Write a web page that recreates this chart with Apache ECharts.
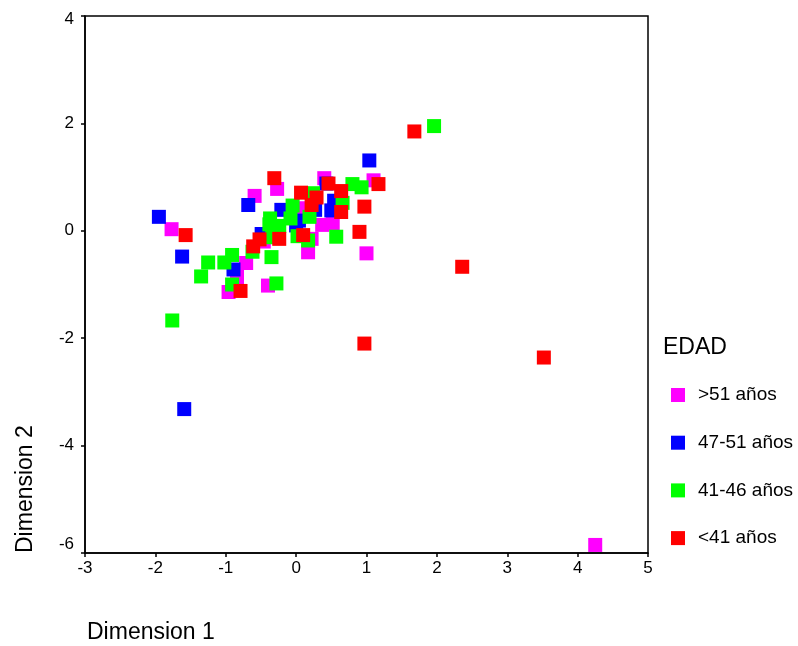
<!DOCTYPE html>
<html>
<head>
<meta charset="utf-8">
<script src="https://cdn.jsdelivr.net/npm/echarts@6/dist/echarts.min.js"></script>
<style>
html,body{margin:0;padding:0;background:#fff;}
#chart{width:798px;height:646px;}
</style>
</head>
<body>
<div id="chart"></div>
<script>
const seriesNames = ['>51 años', '47-51 años', '41-46 años', '<41 años'];
const seriesColors = ['#FF00FF', '#0000FF', '#00FF00', '#FF0000'];

const over51 = [
  [-1.77, 0.03], [-0.59, 0.65], [-0.27, 0.78], [0.40, 0.98], [1.10, 0.94],
  [0.37, 0.11], [0.52, 0.14], [0.17, -0.40], [0.22, -0.15], [1.00, -0.42],
  [-0.71, -0.60], [-0.84, -0.86], [-0.96, -1.14], [-0.40, -1.02], [4.25, -5.85],
  [-0.46, -0.20], [0.04, 0.42]
];
const age47to51 = [
  [-1.95, 0.26], [-1.62, -0.48], [-1.59, -3.32], [-0.68, 0.48], [1.04, 1.31],
  [-0.89, -0.72], [-0.21, 0.39], [-0.49, -0.06], [0.04, 0.19], [0.27, 0.39],
  [0.50, 0.38], [0.54, 0.56], [0.43, 0.88], [0.00, 0.10]
];
const age41to46 = [
  [1.96, 1.95], [-1.76, -1.67], [-1.35, -0.85], [-1.25, -0.59], [-1.02, -0.59],
  [-0.91, -0.45], [-0.91, -1.00], [-0.35, -0.49], [-0.28, -0.98], [-0.62, -0.39],
  [-0.37, 0.23], [-0.38, 0.12], [-0.26, 0.08], [-0.05, 0.47], [-0.08, 0.23],
  [0.19, 0.26], [0.02, -0.10], [0.17, -0.18], [0.24, 0.70], [0.66, 0.52],
  [0.57, -0.11], [0.80, 0.87], [0.93, 0.81], [-0.34, -0.12], [-0.24, 0.09]
];
const under41 = [
  [1.68, 1.85], [-0.31, 0.98], [-1.57, -0.08], [-0.79, -1.12], [-0.61, -0.29],
  [-0.52, -0.16], [-0.24, -0.15], [0.07, 0.71], [0.10, -0.08], [0.22, 0.48],
  [0.29, 0.62], [0.46, 0.88], [0.64, 0.74], [0.64, 0.35], [0.97, 0.45],
  [0.90, -0.02], [1.17, 0.87], [0.97, -2.10], [2.36, -0.67], [3.52, -2.36]
];
const seriesData = [over51, age47to51, age41to46, under41];

const xTicks = {min: -3, max: 5, interval: 1};
const yTicks = {min: -6, max: 4, interval: 2};

const font = 'Liberation Sans, Arial, sans-serif';
const chart = echarts.init(document.getElementById('chart'), null, {renderer: 'canvas'});

chart.setOption({
  animation: false,
  backgroundColor: '#ffffff',
  grid: {
    left: 85, top: 16, right: 150, bottom: 93,
    show: true, borderColor: '#000', borderWidth: 1.5, backgroundColor: 'transparent'
  },
  title: {
    text: 'EDAD', left: 663, top: 336, padding: 0,
    textStyle: {fontFamily: font, fontSize: 23, fontWeight: 'normal', color: '#000'}
  },
  legend: {
    orient: 'vertical', left: 671, top: 385.5, padding: 0,
    itemWidth: 14, itemHeight: 14, itemGap: 28.7,
    icon: 'rect',
    data: seriesNames,
    textStyle: {fontFamily: font, fontSize: 19, color: '#000', lineHeight: 19, padding: [0, 0, 0, 8]}
  },
  xAxis: {
    type: 'value', min: xTicks.min, max: xTicks.max, interval: xTicks.interval,
    axisLine: {show: true, onZero: false, lineStyle: {color: '#000', width: 1.5}},
    axisTick: {show: true, inside: false, length: 4, lineStyle: {color: '#000', width: 1.5}},
    splitLine: {show: false},
    axisLabel: {fontFamily: font, fontSize: 17, color: '#000', margin: 7}
  },
  yAxis: {
    type: 'value', min: yTicks.min, max: yTicks.max, interval: yTicks.interval,
    axisLine: {show: true, onZero: false, lineStyle: {color: '#000', width: 1.5}},
    axisTick: {show: true, inside: false, length: 4, lineStyle: {color: '#000', width: 1.5}},
    splitLine: {show: false},
    axisLabel: {
      fontFamily: font, fontSize: 17, color: '#000', margin: 11,
      formatter: v => v === yTicks.min ? '{low|' + v + '}' : (v === yTicks.max ? '{high|' + v + '}' : String(v)),
      rich: {
        low: {fontFamily: font, fontSize: 17, color: '#000', padding: [0, 0, 18, 0]},
        high: {fontFamily: font, fontSize: 17, color: '#000', padding: [7, 0, 0, 0]}
      }
    }
  },
  graphic: [
    {type: 'text', left: 87, top: 621,
     style: {text: 'Dimension 1', font: '23px ' + font, fill: '#000'}},
    {type: 'text', x: 14, y: 553, rotation: Math.PI / 2,
     style: {text: 'Dimension 2', font: '23px ' + font, fill: '#000', textAlign: 'left', textVerticalAlign: 'top'}}
  ],
  series: seriesNames.map((name, i) => ({
    name: name,
    type: 'scatter',
    symbol: 'rect',
    symbolSize: 14,
    itemStyle: {color: seriesColors[i], opacity: 1},
    data: seriesData[i]
  }))
});
</script>
</body>
</html>
